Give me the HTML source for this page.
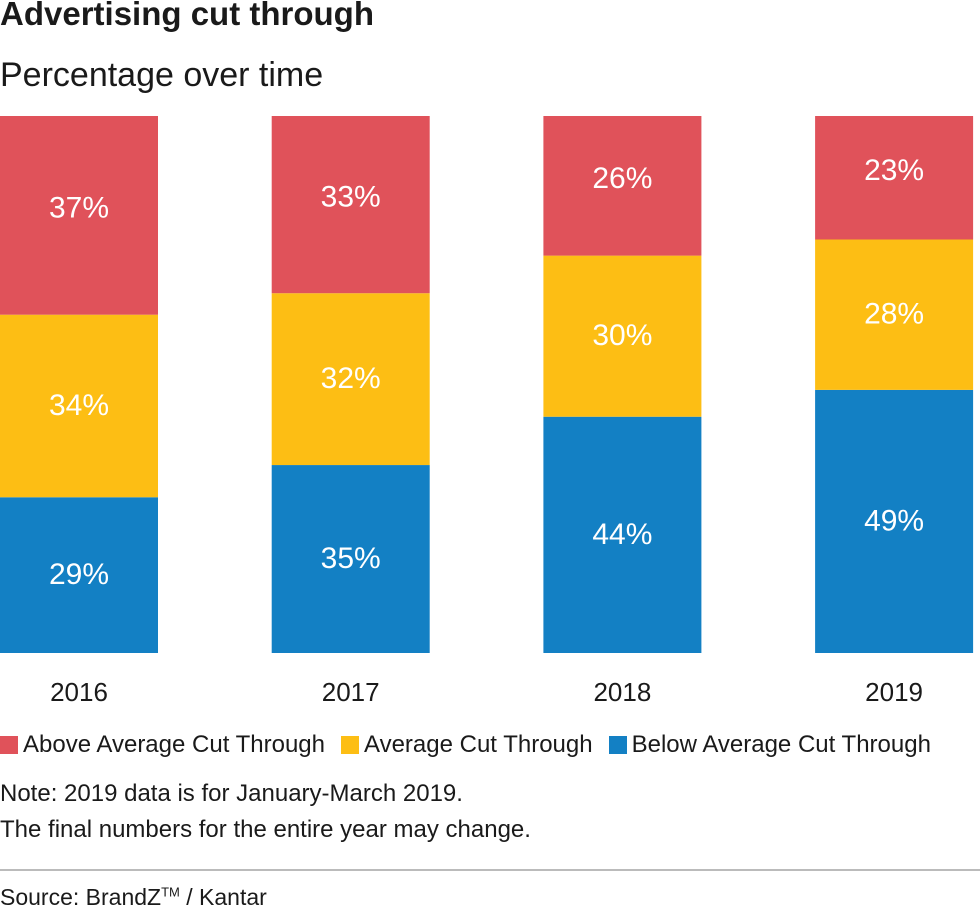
<!DOCTYPE html>
<html><head><meta charset="utf-8"><style>
body{margin:0;background:#fff;font-family:"Liberation Sans",sans-serif;color:#1a1a1a;width:980px;height:908px;overflow:hidden;position:relative}
.abs{position:absolute;white-space:nowrap}
</style></head><body>
<div class="abs" style="left:0;top:-5px;font-size:33px;font-weight:bold">Advertising cut through</div>
<div class="abs" style="left:0;top:56px;font-size:34px">Percentage over time</div>
<svg class="abs" style="left:0;top:0" width="980" height="720" id="chart"></svg>
<div class="abs" style="left:0;top:731px;font-size:24px;display:flex;align-items:center">
<span style="display:flex;align-items:center"><span style="width:18px;height:18px;background:#E0525A;display:inline-block;margin-right:5px"></span>Above Average Cut Through</span>
<span style="display:flex;align-items:center;margin-left:16px"><span style="width:18px;height:18px;background:#FDBE14;display:inline-block;margin-right:5px"></span>Average Cut Through</span>
<span style="display:flex;align-items:center;margin-left:16px"><span style="width:18px;height:18px;background:#1380C4;display:inline-block;margin-right:5px"></span>Below Average Cut Through</span>
</div>
<div class="abs" style="left:0;top:780px;font-size:24px">Note: 2019 data is for January-March 2019.</div>
<div class="abs" style="left:0;top:816px;font-size:24px">The final numbers for the entire year may change.</div>
<div class="abs" style="left:0;top:869px;width:980px;height:2px;background:#bbb"></div>
<div class="abs" style="left:0;top:884px;font-size:23px">Source: BrandZ<sup style="font-size:13px">TM</sup> / Kantar</div>
<script>
const years=["2016","2017","2018","2019"];
const below=[29,35,44,49];
const average=[34,32,30,28];
const above=[37,33,26,23];
const svg=document.getElementById('chart');
const NS='http://www.w3.org/2000/svg';
const top0=116,bot=653,barW=158;
const y=v=>bot-(v/100)*(bot-top0);
const x=i=>i*271.7;
const series=[[below,'#1380C4','below',9],[average,'#FDBE14','average',9],[above,'#E0525A','above',2]];
years.forEach((yr,i)=>{
  let cum=0;
  series.forEach(([arr,col,nm,off])=>{
    const v=arr[i];const y1=y(cum+v),y0=y(cum);
    const r=document.createElementNS(NS,'rect');
    r.setAttribute('x',x(i));r.setAttribute('y',y1);r.setAttribute('width',barW);r.setAttribute('height',y0-y1);r.setAttribute('fill',col);
    
    
    svg.appendChild(r);
    const t=document.createElementNS(NS,'text');
    t.setAttribute('x',x(i)+barW/2);t.setAttribute('y',(y1+y0)/2+off);t.setAttribute('text-anchor','middle');
    t.setAttribute('fill','#fff');t.setAttribute('font-size','30');t.setAttribute('font-family','Liberation Sans, sans-serif');
    t.textContent=v+'%';
    
    
    svg.appendChild(t);
    cum+=v;
  });
  const l=document.createElementNS(NS,'text');
  l.setAttribute('x',x(i)+barW/2);l.setAttribute('y',701);l.setAttribute('text-anchor','middle');
  l.setAttribute('fill','#1a1a1a');l.setAttribute('font-size','26');l.setAttribute('font-family','Liberation Sans, sans-serif');
  l.textContent=yr;
  
  
  svg.appendChild(l);
});
</script>
</body></html>
